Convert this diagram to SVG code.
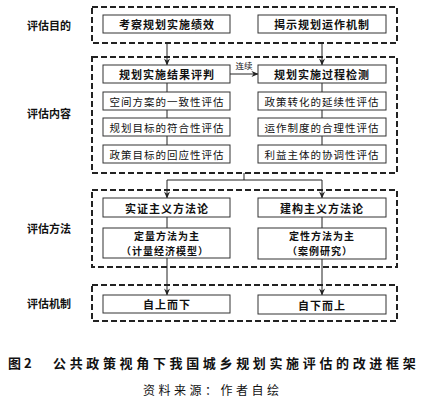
<svg xmlns="http://www.w3.org/2000/svg" width="424" height="401" viewBox="0 0 424 401">
<defs>
<marker id="ah" viewBox="0 0 8 8" refX="7.5" refY="4" markerWidth="7" markerHeight="7" markerUnits="userSpaceOnUse" orient="auto">
<path d="M0,0.5 L8,4 L0,7.5 L2.5,4 Z" fill="#222"/>
</marker>
</defs>
<style>
.dash{fill:none;stroke:#222;stroke-width:2;stroke-dasharray:6 3}
.box{fill:#fff;stroke:#333;stroke-width:1}
.ln{fill:none;stroke:#222;stroke-width:1}
.arr{fill:none;stroke:#222;stroke-width:1;marker-end:url(#ah)}
text{font-family:"Noto Sans CJK SC","Noto Sans",sans-serif;fill:#111;text-anchor:middle;dominant-baseline:central}
.b{font-weight:bold;font-size:11px;letter-spacing:1px}
.b2{font-weight:bold;font-size:10px;letter-spacing:1px}
.r{font-size:10.5px;letter-spacing:1px}
.lab{font-weight:bold;font-size:11px}
.small{font-size:8.5px}
</style>
<rect width="424" height="401" fill="#fff"/>

<g id="labels">
<text class="lab" x="49" y="25">评估目的</text>
<text class="lab" x="49" y="113">评估内容</text>
<text class="lab" x="49" y="228">评估方法</text>
<text class="lab" x="49" y="303">评估机制</text>
</g>

<g id="groups">
<rect class="dash" x="92" y="7" width="305" height="36"/>
<rect class="dash" x="92" y="57" width="305" height="116"/>
<rect class="dash" x="92" y="190" width="305" height="77"/>
<rect class="dash" x="92" y="285" width="305" height="36"/>
</g>

<g id="connectors">
<line class="arr" x1="167" y1="43" x2="167" y2="65"/>
<line class="arr" x1="322" y1="43" x2="322" y2="65"/>
<line class="ln" x1="167" y1="83" x2="167" y2="145"/>
<line class="ln" x1="322" y1="83" x2="322" y2="145"/>
<line class="arr" x1="230" y1="74" x2="258" y2="74"/>
<text class="small" x="244" y="65">连续</text>
<polyline class="ln" points="244,173 244,180"/>
<line class="ln" x1="167" y1="180" x2="322" y2="180"/>
<line class="arr" x1="167" y1="180" x2="167" y2="198"/>
<line class="arr" x1="322" y1="180" x2="322" y2="198"/>
<line class="ln" x1="167" y1="217" x2="167" y2="228"/>
<line class="ln" x1="322" y1="217" x2="322" y2="228"/>
<line class="arr" x1="167" y1="258" x2="167" y2="295"/>
<line class="arr" x1="322" y1="259" x2="322" y2="295"/>
</g>

<g id="n1"><rect class="box" x="103" y="15" width="127" height="18"/><text class="b" x="167" y="24">考察规划实施绩效</text></g>
<g id="n2"><rect class="box" x="258" y="15" width="128" height="18"/><text class="b" x="322" y="24">揭示规划运作机制</text></g>

<g id="n3"><rect class="box" x="103" y="65" width="127" height="18"/><text class="b" x="167" y="74">规划实施结果评判</text></g>
<g id="n4"><rect class="box" x="258" y="65" width="128" height="18"/><text class="b" x="322" y="74">规划实施过程检测</text></g>
<g id="n5"><rect class="box" x="103" y="92" width="127" height="18"/><text class="r" x="167" y="101">空间方案的一致性评估</text></g>
<g id="n6"><rect class="box" x="258" y="92" width="128" height="18"/><text class="r" x="322" y="101">政策转化的延续性评估</text></g>
<g id="n7"><rect class="box" x="103" y="118" width="127" height="18"/><text class="r" x="167" y="127">规划目标的符合性评估</text></g>
<g id="n8"><rect class="box" x="258" y="118" width="128" height="18"/><text class="r" x="322" y="127">运作制度的合理性评估</text></g>
<g id="n9"><rect class="box" x="103" y="145" width="127" height="18"/><text class="r" x="167" y="154">政策目标的回应性评估</text></g>
<g id="n10"><rect class="box" x="258" y="145" width="128" height="18"/><text class="r" x="322" y="154">利益主体的协调性评估</text></g>

<g id="n11"><rect class="box" x="103" y="198" width="127" height="19"/><text class="b" x="167" y="207.5">实证主义方法论</text></g>
<g id="n12"><rect class="box" x="258" y="198" width="128" height="19"/><text class="b" x="322" y="207.5">建构主义方法论</text></g>
<g id="n13"><rect class="box" x="103" y="228" width="127" height="30"/><text class="b2" x="167" y="235.5">定量方法为主</text><text class="b2" x="165" y="250.5">（计量经济模型）</text></g>
<g id="n14"><rect class="box" x="258" y="228" width="128" height="31"/><text class="b2" x="322" y="235.5">定性方法为主</text><text class="b2" x="320" y="250.5">（案例研究）</text></g>

<g id="n15"><rect class="box" x="103" y="295" width="127" height="18"/><text class="b" x="167" y="304">自上而下</text></g>
<g id="n16"><rect class="box" x="258" y="295" width="128" height="19"/><text class="b" x="322" y="304.5">自下而上</text></g>

<g id="caption">
<text x="8" y="362" style="text-anchor:start;font-weight:bold;font-size:13px">图 2</text>
<text x="53" y="362" style="text-anchor:start;font-weight:bold;font-size:13px;letter-spacing:3.65px">公共政策视角下我国城乡规划实施评估的改进框架</text>
<text x="143" y="389" style="text-anchor:start;font-size:12px;letter-spacing:3.5px">资料来源：作者自绘</text>
</g>
</svg>
